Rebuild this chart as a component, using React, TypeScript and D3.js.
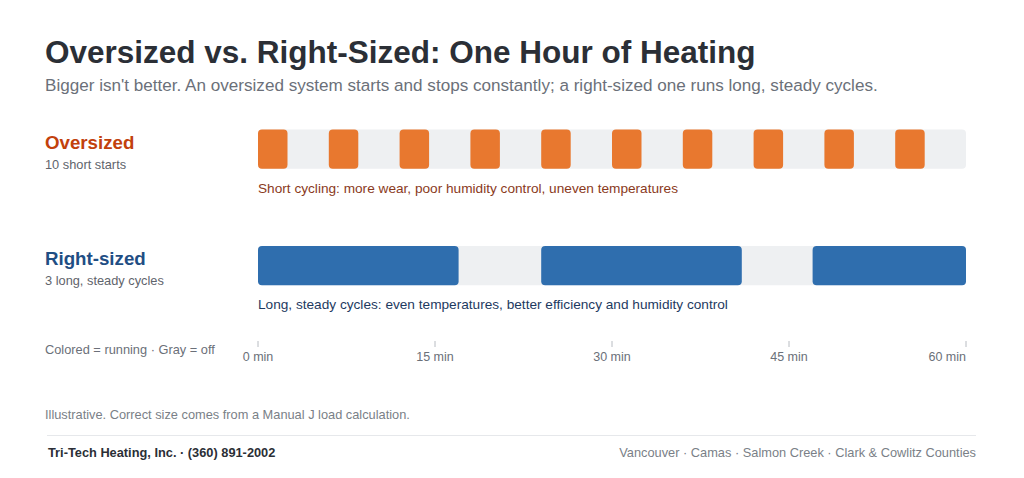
import React from "react";
import * as d3 from "d3";

const MINUTES_DOMAIN: [number, number] = [0, 60];
const AXIS_TICKS = [0, 15, 30, 45, 60];
const TICK_LABEL = (m: number) => `${m} min`;

// Oversized: run intervals [start, end] in minutes
const oversizedStarts = [0, 6, 12, 18, 24, 30, 36, 42, 48, 54];
const oversizedRun = 2.5;
// Right-sized: run intervals
const rightSizedCycles: [number, number][] = [
  [0, 17],
  [24, 41],
  [47, 60],
];

const rows = [
  {
    key: "over",
    label: "Oversized",
    sub: "10 short starts",
    caption: "Short cycling: more wear, poor humidity control, uneven temperatures",
    intervals: oversizedStarts.map((s) => [s, s + oversizedRun] as [number, number]),
  },
  {
    key: "right",
    label: "Right-sized",
    sub: "3 long, steady cycles",
    caption: "Long, steady cycles: even temperatures, better efficiency and humidity control",
    intervals: rightSizedCycles,
  },
];

const STYLE: Record<string, { bar: string; label: string; caption: string; y: number }> = {
  over: { bar: "#e8782f", label: "#c2410c", caption: "#8a3a1c", y: 129.5 },
  right: { bar: "#2f6eae", label: "#1f4e84", caption: "#1e3a5f", y: 246 },
};

const FONT = "'Liberation Sans', Arial, Helvetica, sans-serif";

export default function App() {
  if (typeof document !== "undefined") document.body.style.margin = "0";
  const W = 1024;
  const H = 478;
  const x = d3.scaleLinear().domain(MINUTES_DOMAIN).range([258, 966]);
  const barH = 39.3;
  const lastTick = AXIS_TICKS[AXIS_TICKS.length - 1];

  return (
    <svg width={W} height={H} viewBox={`0 0 ${W} ${H}`} style={{ display: "block", background: "#fff" }} fontFamily={FONT}>
      <text x={45} y={62.5} fontSize={31.5} fontWeight={700} fill="#2b2f36">
        Oversized vs. Right-Sized: One Hour of Heating
      </text>
      <text x={45} y={90.5} fontSize={17.1} fill="#6b7079">
        Bigger isn't better. An oversized system starts and stops constantly; a right-sized one runs long, steady cycles.
      </text>

      {rows.map((r) => {
        const s = STYLE[r.key];
        return (
          <g key={r.key}>
            <text x={45} y={s.y + 19} fontSize={18.7} fontWeight={700} fill={s.label}>
              {r.label}
            </text>
            <text x={45} y={s.y + 39} fontSize={12.8} fill="#5f646c">
              {r.sub}
            </text>
            <rect x={x(0)} y={s.y} width={x(60) - x(0)} height={barH} rx={4} fill="#eef0f2" />
            {r.intervals.map(([a, b], i) => (
              <rect key={i} x={x(a)} y={s.y} width={x(b) - x(a)} height={barH} rx={4} fill={s.bar} />
            ))}
            <text x={x(0)} y={s.y + 63} fontSize={13.65} fill={s.caption}>
              {r.caption}
            </text>
          </g>
        );
      })}

      <text x={45} y={354} fontSize={12.8} fill="#6b7079">
        Colored = running · Gray = off
      </text>
      {AXIS_TICKS.map((t) => (
        <g key={t}>
          <line x1={x(t)} x2={x(t)} y1={341} y2={347} stroke="#b8bcc2" strokeWidth={1} />
          <text
            x={x(t)}
            y={361}
            fontSize={12.5}
            textAnchor={t === lastTick ? "end" : "middle"}
            fill="#6b7079"
          >
            {TICK_LABEL(t)}
          </text>
        </g>
      ))}

      <text x={45} y={419} fontSize={12.8} fill="#7a7f87">
        Illustrative. Correct size comes from a Manual J load calculation.
      </text>
      <line x1={47} x2={976} y1={435.5} y2={435.5} stroke="#e6e8eb" strokeWidth={1} />
      <text x={48} y={457} fontSize={12.8} fontWeight={700} fill="#2b2f36">
        Tri-Tech Heating, Inc. · (360) 891-2002
      </text>
      <text x={976} y={457} fontSize={12.8} textAnchor="end" fill="#7a7f87">
        Vancouver · Camas · Salmon Creek · Clark &amp; Cowlitz Counties
      </text>
    </svg>
  );
}
